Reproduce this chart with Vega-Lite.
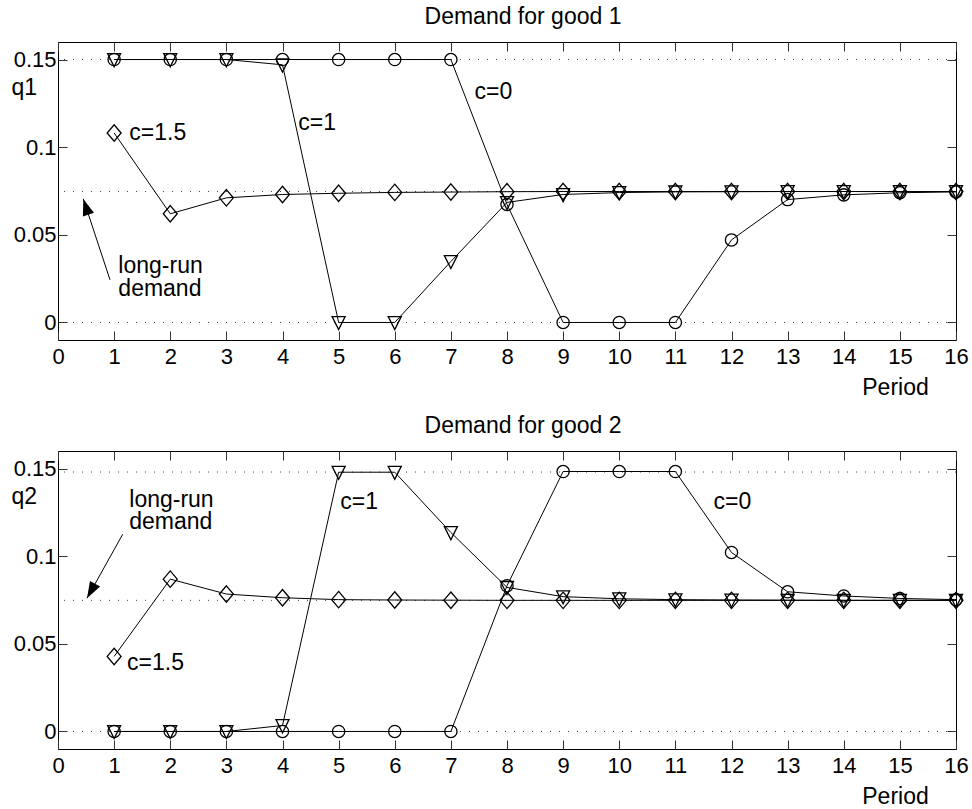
{
  "$schema": "https://vega.github.io/schema/vega-lite/v6.json",
  "background": "white",
  "padding": {"left": 10, "top": 5, "right": 10, "bottom": 5},
  "config": {
    "view": {"stroke": "#000", "strokeWidth": 1},
    "font": "Liberation Sans",
    "axis": {"labelFont": "Liberation Sans", "labelFontSize": 22, "labelColor": "#000", "tickColor": "#333", "tickSize": -9, "domain": false, "grid": false, "labelFlush": false, "labelOverlap": false, "minExtent": 0, "titleFont": "Liberation Sans", "titleFontSize": 23, "titleFontWeight": "normal", "titleColor": "#000"},
    "title": {"font": "Liberation Sans", "fontSize": 23, "fontWeight": "normal", "color": "#000"}
  },
  "datasets": {
    "ref1": [{"v": 0.15}, {"v": 0.0747}, {"v": 0}],
    "ref2": [{"v": 0.148}, {"v": 0.0748}, {"v": 0}],
    "q1": [
      {"t": 1, "c": "0", "q": 0.15}, {"t": 2, "c": "0", "q": 0.15}, {"t": 3, "c": "0", "q": 0.15}, {"t": 4, "c": "0", "q": 0.15},
      {"t": 5, "c": "0", "q": 0.15}, {"t": 6, "c": "0", "q": 0.15}, {"t": 7, "c": "0", "q": 0.15}, {"t": 8, "c": "0", "q": 0.0673},
      {"t": 9, "c": "0", "q": 0}, {"t": 10, "c": "0", "q": 0}, {"t": 11, "c": "0", "q": 0}, {"t": 12, "c": "0", "q": 0.0471},
      {"t": 13, "c": "0", "q": 0.0701}, {"t": 14, "c": "0", "q": 0.0728}, {"t": 15, "c": "0", "q": 0.074}, {"t": 16, "c": "0", "q": 0.0745},
      {"t": 1, "c": "1", "q": 0.15}, {"t": 2, "c": "1", "q": 0.15}, {"t": 3, "c": "1", "q": 0.15}, {"t": 4, "c": "1", "q": 0.147},
      {"t": 5, "c": "1", "q": 0}, {"t": 6, "c": "1", "q": 0}, {"t": 7, "c": "1", "q": 0.0348}, {"t": 8, "c": "1", "q": 0.0685},
      {"t": 9, "c": "1", "q": 0.073}, {"t": 10, "c": "1", "q": 0.0741}, {"t": 11, "c": "1", "q": 0.0745}, {"t": 12, "c": "1", "q": 0.0746},
      {"t": 13, "c": "1", "q": 0.0747}, {"t": 14, "c": "1", "q": 0.0747}, {"t": 15, "c": "1", "q": 0.0747}, {"t": 16, "c": "1", "q": 0.0747},
      {"t": 1, "c": "1.5", "q": 0.1081}, {"t": 2, "c": "1.5", "q": 0.062}, {"t": 3, "c": "1.5", "q": 0.0711}, {"t": 4, "c": "1.5", "q": 0.073},
      {"t": 5, "c": "1.5", "q": 0.0737}, {"t": 6, "c": "1.5", "q": 0.0742}, {"t": 7, "c": "1.5", "q": 0.0744}, {"t": 8, "c": "1.5", "q": 0.0746},
      {"t": 9, "c": "1.5", "q": 0.0747}, {"t": 10, "c": "1.5", "q": 0.0747}, {"t": 11, "c": "1.5", "q": 0.0747}, {"t": 12, "c": "1.5", "q": 0.0747},
      {"t": 13, "c": "1.5", "q": 0.0747}, {"t": 14, "c": "1.5", "q": 0.0747}, {"t": 15, "c": "1.5", "q": 0.0747}, {"t": 16, "c": "1.5", "q": 0.0747}
    ],
    "q2": [
      {"t": 1, "c": "0", "q": 0}, {"t": 2, "c": "0", "q": 0}, {"t": 3, "c": "0", "q": 0}, {"t": 4, "c": "0", "q": 0},
      {"t": 5, "c": "0", "q": 0}, {"t": 6, "c": "0", "q": 0}, {"t": 7, "c": "0", "q": 0}, {"t": 8, "c": "0", "q": 0.0831},
      {"t": 9, "c": "0", "q": 0.1483}, {"t": 10, "c": "0", "q": 0.1483}, {"t": 11, "c": "0", "q": 0.1483}, {"t": 12, "c": "0", "q": 0.1021},
      {"t": 13, "c": "0", "q": 0.0797}, {"t": 14, "c": "0", "q": 0.0773}, {"t": 15, "c": "0", "q": 0.0759}, {"t": 16, "c": "0", "q": 0.0752},
      {"t": 1, "c": "1", "q": 0}, {"t": 2, "c": "1", "q": 0}, {"t": 3, "c": "1", "q": 0}, {"t": 4, "c": "1", "q": 0.0034},
      {"t": 5, "c": "1", "q": 0.1479}, {"t": 6, "c": "1", "q": 0.1479}, {"t": 7, "c": "1", "q": 0.1135}, {"t": 8, "c": "1", "q": 0.0822},
      {"t": 9, "c": "1", "q": 0.0769}, {"t": 10, "c": "1", "q": 0.0757}, {"t": 11, "c": "1", "q": 0.0752}, {"t": 12, "c": "1", "q": 0.075},
      {"t": 13, "c": "1", "q": 0.0749}, {"t": 14, "c": "1", "q": 0.0748}, {"t": 15, "c": "1", "q": 0.0748}, {"t": 16, "c": "1", "q": 0.0748},
      {"t": 1, "c": "1.5", "q": 0.0428}, {"t": 2, "c": "1.5", "q": 0.0869}, {"t": 3, "c": "1.5", "q": 0.0784}, {"t": 4, "c": "1.5", "q": 0.0763},
      {"t": 5, "c": "1.5", "q": 0.0752}, {"t": 6, "c": "1.5", "q": 0.075}, {"t": 7, "c": "1.5", "q": 0.0749}, {"t": 8, "c": "1.5", "q": 0.0748},
      {"t": 9, "c": "1.5", "q": 0.0748}, {"t": 10, "c": "1.5", "q": 0.0748}, {"t": 11, "c": "1.5", "q": 0.0748}, {"t": 12, "c": "1.5", "q": 0.0748},
      {"t": 13, "c": "1.5", "q": 0.0748}, {"t": 14, "c": "1.5", "q": 0.0748}, {"t": 15, "c": "1.5", "q": 0.0748}, {"t": 16, "c": "1.5", "q": 0.0748}
    ],
    "ann1": [
      {"x": 1.27, "y": 0.104, "label": "c=1.5"},
      {"x": 4.28, "y": 0.11, "label": "c=1"},
      {"x": 7.42, "y": 0.1275, "label": "c=0"}
    ],
    "lr1": [{"x": 1.075, "y": 0.0385, "label": "long-run\ndemand"}],
    "ann2": [
      {"x": 5.03, "y": 0.1267, "label": "c=1"},
      {"x": 11.68, "y": 0.1267, "label": "c=0"},
      {"x": 1.23, "y": 0.0352, "label": "c=1.5"}
    ],
    "lr2": [{"x": 1.27, "y": 0.1384, "label": "long-run\ndemand"}],
    "arrow1": [{"x1": 0.927, "y1": 0.0243, "xt": 0.451, "yt": 0.0705}],
    "arrow2": [{"x1": 1.153, "y1": 0.1125, "xt": 0.517, "yt": 0.076}]
  },
  "spacing": 111,
  "bounds": "flush",
  "vconcat": [
    {
      "width": 898,
      "height": 298,
      "title": {"text": "Demand for good 1", "frame": "group", "offset": -5, "baseline": "alphabetic", "dx": 16},
      "resolve": {"axis": {"x": "independent", "y": "independent"}},
      "layer": [
        {
          "data": {"name": "ref1"},
          "mark": {"type": "rule", "strokeDash": [1, 8], "color": "#444", "strokeWidth": 1},
          "encoding": {
            "y": {"field": "v", "type": "quantitative", "scale": {"domain": [-0.01, 0.16], "nice": false, "zero": false},
              "axis": {"orient": "left", "values": [0, 0.05, 0.1, 0.15], "format": "~g", "labelPadding": 11, "title": "q1", "titleAngle": 0, "titleX": -47, "titleY": 52, "titleAlign": "left", "titleBaseline": "alphabetic"}}
          }
        },
        {
          "data": {"name": "q1"},
          "mark": {"type": "line", "color": "#000", "strokeWidth": 1},
          "encoding": {
            "x": {"field": "t", "type": "quantitative", "scale": {"domain": [0, 16], "nice": false, "zero": false},
              "axis": {"orient": "bottom", "values": [0,1,2,3,4,5,6,7,8,9,10,11,12,13,14,15,16], "format": "d", "labelPadding": 15.5, "title": "Period", "titleX": 837, "titleY": 54, "titleAlign": "center", "titleBaseline": "alphabetic"}},
            "y": {"field": "q", "type": "quantitative", "scale": {"domain": [-0.01, 0.16], "nice": false, "zero": false}, "axis": null},
            "detail": {"field": "c", "type": "nominal"}
          }
        },
        {
          "data": {"name": "q1"},
          "mark": {"type": "point", "filled": false, "stroke": "#000", "strokeWidth": 1.3, "opacity": 1},
          "encoding": {
            "x": {"field": "t", "type": "quantitative", "scale": {"domain": [0, 16], "nice": false, "zero": false},
              "axis": {"orient": "top", "values": [0,1,2,3,4,5,6,7,8,9,10,11,12,13,14,15,16], "labels": false, "title": null}},
            "y": {"field": "q", "type": "quantitative", "scale": {"domain": [-0.01, 0.16], "nice": false, "zero": false},
              "axis": {"orient": "right", "values": [0, 0.05, 0.1, 0.15], "labels": false, "title": null}},
            "shape": {"field": "c", "type": "nominal", "scale": {"domain": ["0", "1", "1.5"], "range": ["circle", "M-1,-0.9L1,-0.9L0,1.1Z", "M0,-1L0.85,0L0,1L-0.85,0Z"]}, "legend": null},
            "size": {"field": "c", "type": "nominal", "scale": {"type": "ordinal", "domain": ["0", "1", "1.5"], "range": [150, 170, 270]}, "legend": null}
          }
        },
        {
          "data": {"name": "ann1"},
          "mark": {"type": "text", "align": "left", "baseline": "alphabetic", "font": "Liberation Sans", "fontSize": 23, "color": "#000"},
          "encoding": {
            "x": {"field": "x", "type": "quantitative", "axis": null},
            "y": {"field": "y", "type": "quantitative", "axis": null},
            "text": {"field": "label"}
          }
        },
        {
          "data": {"name": "lr1"},
          "mark": {"type": "text", "align": "left", "baseline": "top", "lineBreak": "\n", "lineHeight": 23, "font": "Liberation Sans", "fontSize": 23, "color": "#000"},
          "encoding": {
            "x": {"field": "x", "type": "quantitative", "axis": null},
            "y": {"field": "y", "type": "quantitative", "axis": null},
            "text": {"field": "label"}
          }
        },
        {
          "data": {"name": "arrow1"},
          "mark": {"type": "rule", "color": "#000", "strokeWidth": 1},
          "encoding": {
            "x": {"field": "x1", "type": "quantitative", "axis": null},
            "y": {"field": "y1", "type": "quantitative", "axis": null},
            "x2": {"field": "xt"},
            "y2": {"field": "yt"}
          }
        },
        {
          "data": {"name": "arrow1"},
          "mark": {"type": "point", "shape": "M0,0L-0.35,1L0.35,1Z", "size": 1100, "filled": true, "color": "#000", "opacity": 1, "angle": 342},
          "encoding": {
            "x": {"field": "xt", "type": "quantitative", "axis": null},
            "y": {"field": "yt", "type": "quantitative", "axis": null}
          }
        }
      ]
    },
    {
      "width": 898,
      "height": 298,
      "title": {"text": "Demand for good 2", "frame": "group", "offset": -5, "baseline": "alphabetic", "dx": 16},
      "resolve": {"axis": {"x": "independent", "y": "independent"}},
      "layer": [
        {
          "data": {"name": "ref2"},
          "mark": {"type": "rule", "strokeDash": [1, 8], "color": "#444", "strokeWidth": 1},
          "encoding": {
            "y": {"field": "v", "type": "quantitative", "scale": {"domain": [-0.01, 0.16], "nice": false, "zero": false},
              "axis": {"orient": "left", "values": [0, 0.05, 0.1, 0.15], "format": "~g", "labelPadding": 11, "title": "q2", "titleAngle": 0, "titleX": -47, "titleY": 52, "titleAlign": "left", "titleBaseline": "alphabetic"}}
          }
        },
        {
          "data": {"name": "q2"},
          "mark": {"type": "line", "color": "#000", "strokeWidth": 1},
          "encoding": {
            "x": {"field": "t", "type": "quantitative", "scale": {"domain": [0, 16], "nice": false, "zero": false},
              "axis": {"orient": "bottom", "values": [0,1,2,3,4,5,6,7,8,9,10,11,12,13,14,15,16], "format": "d", "labelPadding": 15.5, "title": "Period", "titleX": 837, "titleY": 54, "titleAlign": "center", "titleBaseline": "alphabetic"}},
            "y": {"field": "q", "type": "quantitative", "scale": {"domain": [-0.01, 0.16], "nice": false, "zero": false}, "axis": null},
            "detail": {"field": "c", "type": "nominal"}
          }
        },
        {
          "data": {"name": "q2"},
          "mark": {"type": "point", "filled": false, "stroke": "#000", "strokeWidth": 1.3, "opacity": 1},
          "encoding": {
            "x": {"field": "t", "type": "quantitative", "scale": {"domain": [0, 16], "nice": false, "zero": false},
              "axis": {"orient": "top", "values": [0,1,2,3,4,5,6,7,8,9,10,11,12,13,14,15,16], "labels": false, "title": null}},
            "y": {"field": "q", "type": "quantitative", "scale": {"domain": [-0.01, 0.16], "nice": false, "zero": false},
              "axis": {"orient": "right", "values": [0, 0.05, 0.1, 0.15], "labels": false, "title": null}},
            "shape": {"field": "c", "type": "nominal", "scale": {"domain": ["0", "1", "1.5"], "range": ["circle", "M-1,-0.9L1,-0.9L0,1.1Z", "M0,-1L0.85,0L0,1L-0.85,0Z"]}, "legend": null},
            "size": {"field": "c", "type": "nominal", "scale": {"type": "ordinal", "domain": ["0", "1", "1.5"], "range": [150, 170, 270]}, "legend": null}
          }
        },
        {
          "data": {"name": "ann2"},
          "mark": {"type": "text", "align": "left", "baseline": "alphabetic", "font": "Liberation Sans", "fontSize": 23, "color": "#000"},
          "encoding": {
            "x": {"field": "x", "type": "quantitative", "axis": null},
            "y": {"field": "y", "type": "quantitative", "axis": null},
            "text": {"field": "label"}
          }
        },
        {
          "data": {"name": "lr2"},
          "mark": {"type": "text", "align": "left", "baseline": "top", "lineBreak": "\n", "lineHeight": 22.6, "font": "Liberation Sans", "fontSize": 23, "color": "#000"},
          "encoding": {
            "x": {"field": "x", "type": "quantitative", "axis": null},
            "y": {"field": "y", "type": "quantitative", "axis": null},
            "text": {"field": "label"}
          }
        },
        {
          "data": {"name": "arrow2"},
          "mark": {"type": "rule", "color": "#000", "strokeWidth": 1},
          "encoding": {
            "x": {"field": "x1", "type": "quantitative", "axis": null},
            "y": {"field": "y1", "type": "quantitative", "axis": null},
            "x2": {"field": "xt"},
            "y2": {"field": "yt"}
          }
        },
        {
          "data": {"name": "arrow2"},
          "mark": {"type": "point", "shape": "M0,0L-0.35,1L0.35,1Z", "size": 1100, "filled": true, "color": "#000", "opacity": 1, "angle": 209},
          "encoding": {
            "x": {"field": "xt", "type": "quantitative", "axis": null},
            "y": {"field": "yt", "type": "quantitative", "axis": null}
          }
        }
      ]
    }
  ]
}
